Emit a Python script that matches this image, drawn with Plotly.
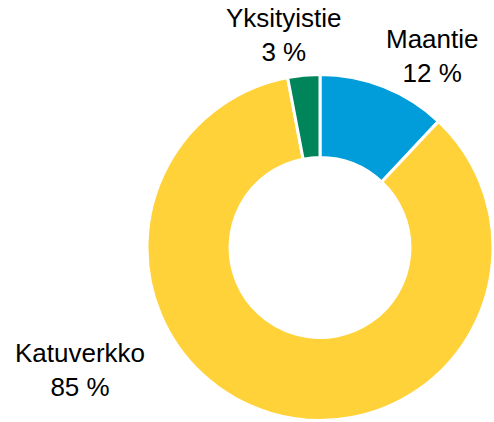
import plotly.graph_objects as go

categories = ["Maantie", "Katuverkko", "Yksityistie"]
values = [12, 85, 3]
colors = ["#009DDA", "#FFD23A", "#00855A"]

W, H = 494, 422

fig = go.Figure(go.Pie(
    labels=categories,
    values=values,
    sort=False,
    direction="clockwise",
    rotation=0,
    hole=0.52,
    textinfo="none",
    hoverinfo="label+percent",
    marker=dict(colors=colors, line=dict(color="white", width=3)),
    domain=dict(x=[147 / W, 493 / W], y=[1 - 421 / H, 1 - 74 / H]),
    showlegend=False,
))

# label centres (pixels)
label_pos = {"Maantie": (432, 56), "Katuverkko": (80, 370), "Yksityistie": (284, 35)}
total = sum(values)
for cat, v in zip(categories, values):
    px, py = label_pos[cat]
    fig.add_annotation(
        x=px / W, y=1 - py / H, xref="paper", yref="paper",
        text=f"{cat}<br>{round(100 * v / total)} %",
        showarrow=False, xanchor="center", yanchor="middle",
        font=dict(family="Liberation Sans, Arial, sans-serif", size=26, color="#000000"),
    )

fig.update_layout(
    width=W, height=H,
    margin=dict(l=0, r=0, t=0, b=0),
    paper_bgcolor="white", plot_bgcolor="white",
)
fig.write_html(
    "out.html",
    config={"displayModeBar": False},
    post_script="document.body.style.margin='0';document.body.style.padding='0';",
)
